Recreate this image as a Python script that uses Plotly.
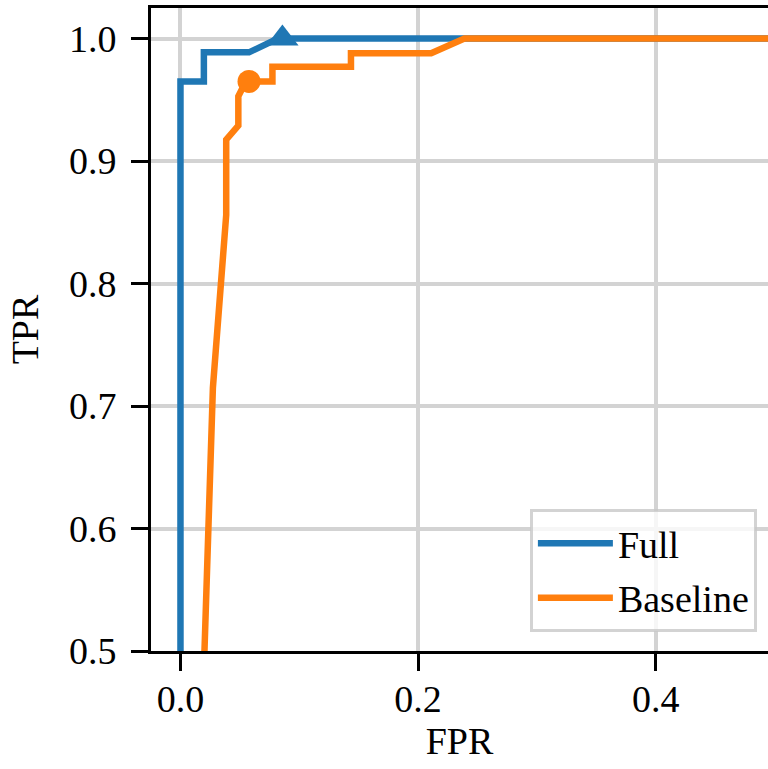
import plotly.graph_objects as go

# Data
full_fpr = [0.0, 0.0, 0.0197, 0.0197, 0.0577, 0.082, 0.6]
full_tpr = [0.5, 0.965, 0.965, 0.9888, 0.9888, 1.0, 1.0]
full_opt_fpr = [0.0858]
full_opt_tpr = [1.0]

base_fpr = [0.0202, 0.0273, 0.0385, 0.0385, 0.0487, 0.0487, 0.055, 0.0774, 0.0774, 0.1435, 0.1435, 0.211, 0.239, 0.6]
base_tpr = [0.5, 0.715, 0.856, 0.9175, 0.929, 0.953, 0.965, 0.965, 0.977, 0.977, 0.988, 0.988, 1.0, 1.0]
base_opt_fpr = [0.0577]
base_opt_tpr = [0.965]

x_ticks = [0.0, 0.2, 0.4]
y_ticks = [0.5, 0.6, 0.7, 0.8, 0.9, 1.0]

BLUE = "#1f77b4"
ORANGE = "#ff7f0e"
FONT = "Liberation Serif"
FS = 38

fig = go.Figure()
fig.add_trace(go.Scatter(x=full_fpr, y=full_tpr, mode="lines", name="Full",
                         legendgroup="full",
                         line=dict(color=BLUE, width=6.5)))
fig.add_trace(go.Scatter(x=base_fpr, y=base_tpr, mode="lines", name="Baseline",
                         legendgroup="base",
                         line=dict(color=ORANGE, width=6.5)))
fig.add_trace(go.Scatter(x=full_opt_fpr, y=full_opt_tpr, mode="markers", showlegend=False,
                         marker=dict(symbol="triangle-up", size=28, color=BLUE, line=dict(width=0)),
                         cliponaxis=False))
fig.add_trace(go.Scatter(x=base_opt_fpr, y=base_opt_tpr, mode="markers", showlegend=False,
                         marker=dict(symbol="circle", size=23, color=ORANGE, line=dict(width=0))))

fig.update_layout(
    width=768, height=769,
    margin=dict(l=151, r=0, t=8, b=118),
    paper_bgcolor="white", plot_bgcolor="white",
    font=dict(family=FONT, size=FS, color="black"),
    showlegend=True,
    legend=dict(x=0.982, y=0.0295, xanchor="right", yanchor="bottom",
                bgcolor="rgba(255,255,255,0.8)", bordercolor="rgba(200,200,200,0.8)",
                borderwidth=3, font=dict(family=FONT, size=FS), itemwidth=75,
                tracegroupgap=2),
)
fig.update_xaxes(
    range=[-0.0248, 0.4945], tickvals=x_ticks, ticktext=[f"{v:.1f}" for v in x_ticks],
    showgrid=True, gridcolor="#d3d3d3", gridwidth=4, zeroline=False,
    showline=True, linecolor="black", linewidth=3, mirror=True,
    ticks="outside", ticklen=17, tickwidth=3, tickcolor="black",
    ticklabelstandoff=-5, tickfont=dict(family=FONT, size=FS),
    title=dict(text="FPR", standoff=7, font=dict(family=FONT, size=FS)),
)
fig.update_yaxes(
    range=[0.5, 1.025], tickvals=y_ticks, ticktext=[f"{v:.1f}" for v in y_ticks],
    showgrid=True, gridcolor="#d3d3d3", gridwidth=4, zeroline=False,
    showline=True, linecolor="black", linewidth=3, mirror=False,
    ticks="outside", ticklen=17, tickwidth=3, tickcolor="black",
    ticklabelstandoff=7, tickfont=dict(family=FONT, size=FS),
    title=dict(text="TPR", standoff=19, font=dict(family=FONT, size=FS)),
)

fig.write_html("out.html", config={"displayModeBar": False},
               post_script="document.body.style.margin='0';document.body.style.overflow='hidden';")
